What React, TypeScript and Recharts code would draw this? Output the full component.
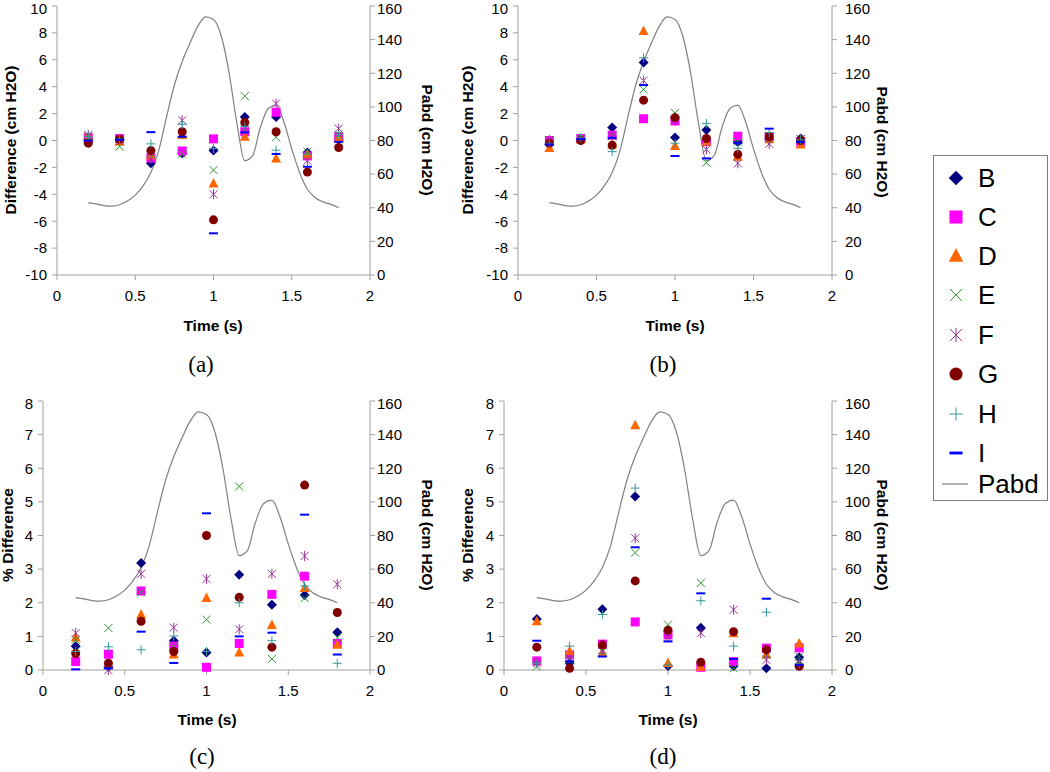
import React from "react"
import { ComposedChart, Scatter, Line, XAxis, YAxis } from "recharts"

// sample times of the nine measurements
const times = [0.2, 0.4, 0.6, 0.8, 1.0, 1.2, 1.4, 1.6, 1.8]
const xTicks = [0, 0.5, 1, 1.5, 2]
const diffTicks = [-10, -8, -6, -4, -2, 0, 2, 4, 6, 8, 10]
const pctTicks = [0, 1, 2, 3, 4, 5, 6, 7, 8]
const pabdTicks = [0, 20, 40, 60, 80, 100, 120, 140, 160]

// abdominal pressure trace
const pabdTimes = [
  0.2, 0.25, 0.3, 0.35, 0.4, 0.45, 0.5, 0.55, 0.6, 0.65, 0.7, 0.75, 0.8, 0.85, 0.9, 0.95, 1.0,
  1.05, 1.1, 1.15, 1.2, 1.25, 1.3, 1.35, 1.4, 1.45, 1.5, 1.55, 1.6, 1.65, 1.7, 1.75, 1.8,
]
const pabdValues = [
  43, 42.3, 41.3, 41, 41.8, 44, 47.5, 53, 61, 74, 94, 113, 127, 138, 148, 153.5, 152,
  142, 120, 90, 68, 71, 88, 99, 101, 91, 75, 61, 51, 46, 43.5, 42, 40,
]

// (a) difference, cm H2O
const aB = [0.05, 0.1, -1.7, -0.95, -0.75, 1.75, 1.75, -0.9, 0.1]
const aC = [0.2, 0.15, -1.3, -0.78, 0.12, 0.65, 2.1, -1.15, 0.28]
const aD = [0.3, -0.1, -1.1, 0.4, -3.2, 0.28, -1.33, -1.05, 0.2]
const aE = [0.35, -0.45, -1.0, -1.0, -2.2, 3.3, 0.24, -0.83, 0.45]
const aF = [0.4, 0.0, -1.4, 1.5, -4.0, 0.9, 2.75, -1.5, 0.88]
const aG = [-0.2, 0.1, -0.75, 0.65, -5.9, 1.35, 0.65, -2.35, -0.52]
const aH = [0.3, 0.1, -0.25, 1.2, -0.6, 1.05, -0.72, -1.0, 0.45]
const aI = [0.0, 0.05, 0.62, 0.28, -6.9, 0.6, -1.0, -1.95, -0.1]

// (b) difference, cm H2O
const bB = [-0.3, 0.1, 0.97, 5.8, 0.22, 0.78, -0.12, 0.1, 0.15]
const bC = [0.0, 0.15, 0.4, 1.62, 1.45, -0.08, 0.32, 0.3, -0.1]
const bD = [-0.55, 0.1, -0.3, 8.15, -0.4, -0.1, -1.2, 0.1, -0.3]
const bE = [0.0, 0.2, 0.3, 3.8, 2.05, -1.65, -0.1, 0.2, 0.1]
const bF = [0.05, 0.1, 0.35, 4.45, 1.5, -0.66, -1.7, -0.25, 0.1]
const bG = [-0.2, 0.0, -0.35, 3.0, 1.7, 0.15, -1.03, 0.28, 0.0]
const bH = [-0.2, 0.2, -0.83, 6.15, -0.2, 1.27, -0.58, 0.6, 0.05]
const bI = [-0.3, 0.1, 0.2, 4.12, -1.15, -1.33, -0.2, 0.88, -0.1]

// (c) % difference
const cB = [0.71, 0.1, 3.18, 0.87, 0.52, 2.83, 1.94, 2.23, 1.12]
const cC = [0.25, 0.47, 2.35, 0.71, 0.08, 0.79, 2.25, 2.79, 0.79]
const cD = [0.97, 0.15, 1.65, 0.46, 2.14, 0.52, 1.34, 2.44, 0.75]
const cE = [0.9, 1.25, 2.31, 0.7, 1.5, 5.46, 0.33, 2.14, 0.97]
const cF = [1.1, 0.0, 2.86, 1.26, 2.71, 1.21, 2.86, 3.39, 2.55]
const cG = [0.49, 0.2, 1.45, 0.55, 4.0, 2.16, 0.68, 5.5, 1.71]
const cH = [0.55, 0.69, 0.6, 1.01, 0.55, 2.0, 0.87, 2.5, 0.2]
const cI = [0.02, 0.05, 1.14, 0.21, 4.66, 1.0, 1.11, 4.62, 0.46]

// (d) % difference
const dB = [1.52, 0.2, 1.81, 5.16, 0.12, 1.26, 0.12, 0.05, 0.38]
const dC = [0.27, 0.45, 0.77, 1.43, 1.05, 0.08, 0.25, 0.65, 0.66]
const dD = [1.45, 0.56, 0.51, 7.28, 0.21, 0.1, 1.09, 0.46, 0.79]
const dE = [0.11, 0.3, 0.55, 3.49, 1.35, 2.59, 0.05, 0.45, 0.4]
const dF = [0.2, 0.35, 0.6, 3.92, 0.97, 1.1, 1.79, 0.3, 0.2]
const dG = [0.68, 0.05, 0.74, 2.65, 1.18, 0.23, 1.14, 0.6, 0.11]
const dH = [0.2, 0.71, 1.65, 5.41, 0.15, 2.06, 0.71, 1.72, 0.2]
const dI = [0.87, 0.26, 0.4, 3.65, 0.85, 2.28, 0.33, 2.12, 0.15]

const seriesNames = ["B", "C", "D", "E", "F", "G", "H", "I"]

const colors: Record<string, string> = {
  B: "#000080",
  C: "#ff00ff",
  D: "#ff6600",
  E: "#2a9a2a",
  F: "#993399",
  G: "#800000",
  H: "#339999",
  I: "#0000ff",
}

const SANS = '"Liberation Sans", Arial, sans-serif'
const SERIF = '"Liberation Serif", "Times New Roman", serif'
const AXIS = "#a0a0a0"

const pabd = pabdTimes.map((t, i) => ({ t, p: pabdValues[i] }))
const toPoints = (vals: number[]) => times.map((t, i) => ({ t, v: vals[i] }))

const Marker = ({ kind, cx, cy, s = 1 }: { kind: string; cx: number; cy: number; s?: number }) => {
  const c = colors[kind]
  if (cx == null || cy == null) return null
  switch (kind) {
    case "B":
      return <polygon points={`${cx},${cy - 5 * s} ${cx + 5 * s},${cy} ${cx},${cy + 5 * s} ${cx - 5 * s},${cy}`} fill={c} />
    case "C":
      return <rect x={cx - 4.5 * s} y={cy - 4.5 * s} width={9 * s} height={9 * s} fill={c} />
    case "D":
      return <polygon points={`${cx},${cy - 5.5 * s} ${cx + 5 * s},${cy + 4 * s} ${cx - 5 * s},${cy + 4 * s}`} fill={c} />
    case "E":
      return (
        <g stroke={c} strokeWidth={1}>
          <line x1={cx - 4 * s} y1={cy - 4 * s} x2={cx + 4 * s} y2={cy + 4 * s} />
          <line x1={cx - 4 * s} y1={cy + 4 * s} x2={cx + 4 * s} y2={cy - 4 * s} />
        </g>
      )
    case "F":
      return (
        <g stroke={c} strokeWidth={1}>
          <line x1={cx - 4 * s} y1={cy - 4 * s} x2={cx + 4 * s} y2={cy + 4 * s} />
          <line x1={cx - 4 * s} y1={cy + 4 * s} x2={cx + 4 * s} y2={cy - 4 * s} />
          <line x1={cx} y1={cy - 5 * s} x2={cx} y2={cy + 5 * s} />
        </g>
      )
    case "G":
      return <circle cx={cx} cy={cy} r={4.5 * s} fill={c} />
    case "H":
      return (
        <g stroke={c} strokeWidth={1}>
          <line x1={cx - 4.5 * s} y1={cy} x2={cx + 4.5 * s} y2={cy} />
          <line x1={cx} y1={cy - 4.5 * s} x2={cx} y2={cy + 4.5 * s} />
        </g>
      )
    default:
      return <rect x={cx - 4.5 * s} y={cy - 1 * s} width={9 * s} height={2 * s} fill={c} />
  }
}

interface PanelProps {
  left: number
  top: number
  leftWidth: number
  rightGap: number
  marginRight: number
  domain: [number, number]
  ticks: number[]
  series: number[][]
}

const Panel = ({ left, top, leftWidth, rightGap, marginRight, domain, ticks, series }: PanelProps) => (
  <div style={{ position: "absolute", left, top }}>
    <ComposedChart
      width={460}
      height={320}
      margin={{ top: 6, right: marginRight, bottom: 15, left: 0 }}
      style={{ fontFamily: SANS }}
    >
      <XAxis
        dataKey="t"
        type="number"
        domain={[0, 2]}
        ticks={xTicks}
        height={30}
        tickSize={5}
        tickMargin={10}
        stroke={AXIS}
        tick={{ fill: "#000", fontSize: 15 }}
      />
      <XAxis xAxisId="top" orientation="top" type="number" domain={[0, 2]} height={0} tick={false} tickLine={false} stroke={AXIS} />
      <YAxis
        yAxisId="left"
        type="number"
        domain={domain}
        ticks={ticks}
        width={leftWidth}
        tickSize={5}
        tickMargin={5}
        stroke={AXIS}
        tick={{ fill: "#000", fontSize: 15 }}
      />
      <YAxis
        yAxisId="right"
        orientation="right"
        type="number"
        domain={[0, 160]}
        ticks={pabdTicks}
        width={50}
        tickSize={5}
        tickMargin={rightGap}
        stroke={AXIS}
        tick={{ fill: "#000", fontSize: 15 }}
      />
      <Line
        yAxisId="right"
        data={pabd}
        dataKey="p"
        type="monotone"
        stroke="#808080"
        strokeWidth={1.2}
        dot={false}
        isAnimationActive={false}
      />
      {seriesNames.map((name, i) => (
        <Scatter
          key={name}
          yAxisId="left"
          name={name}
          data={toPoints(series[i])}
          dataKey="v"
          isAnimationActive={false}
          shape={(p: any) => <Marker kind={name} cx={p.cx} cy={p.cy} />}
        />
      ))}
    </ComposedChart>
  </div>
)

const Rotated = ({ x, y, text, angle }: { x: number; y: number; text: string; angle: number }) => (
  <div
    style={{
      position: "absolute",
      left: x,
      top: y,
      transform: `translate(-50%, -50%) rotate(${angle}deg)`,
      whiteSpace: "nowrap",
      fontFamily: SANS,
      fontWeight: "bold",
      fontSize: 15.5,
    }}
  >
    {text}
  </div>
)

const Caption = ({ x, y, text, serif }: { x: number; y: number; text: string; serif?: boolean }) => (
  <div
    style={{
      position: "absolute",
      left: x,
      top: y,
      transform: "translate(-50%, -50%)",
      whiteSpace: "nowrap",
      fontFamily: serif ? SERIF : SANS,
      fontWeight: serif ? "normal" : "bold",
      fontSize: serif ? 23 : 15.5,
    }}
  >
    {text}
  </div>
)

const legendRows = [178, 217, 256, 295, 335, 374, 414, 453]

const LegendBox = () => (
  <svg style={{ position: "absolute", left: 0, top: 0 }} width={1050} height={772}>
    <rect x={933.5} y={155.5} width={114} height={345} fill="#fff" stroke="#808080" strokeWidth={1} />
    {seriesNames.map((name, i) => (
      <g key={name}>
        <Marker kind={name} cx={956} cy={legendRows[i]} s={1.45} />
        <text x={978} y={legendRows[i]} dy="0.36em" fontFamily={SANS} fontSize={26} fill="#000">
          {name}
        </text>
      </g>
    ))}
    <line x1={942} y1={484} x2={968} y2={484} stroke="#808080" strokeWidth={1.2} />
    <text x={978} y={484} dy="0.36em" fontFamily={SANS} fontSize={26} fill="#000">
      Pabd
    </text>
  </svg>
)

export default function App() {
  return (
    <div style={{ position: "absolute", left: 0, top: 0, width: 1050, height: 772, background: "#fff", overflow: "hidden" }}>
      <Panel left={0} top={0} leftWidth={57} rightGap={2} marginRight={40} domain={[-10, 10]} ticks={diffTicks} series={[aB, aC, aD, aE, aF, aG, aH, aI]} />
      <Panel left={460} top={0} leftWidth={58} rightGap={8} marginRight={38} domain={[-10, 10]} ticks={diffTicks} series={[bB, bC, bD, bE, bF, bG, bH, bI]} />
      <Panel left={0} top={395} leftWidth={43} rightGap={2} marginRight={40} domain={[0, 8]} ticks={pctTicks} series={[cB, cC, cD, cE, cF, cG, cH, cI]} />
      <Panel left={460} top={395} leftWidth={44} rightGap={8} marginRight={38} domain={[0, 8]} ticks={pctTicks} series={[dB, dC, dD, dE, dF, dG, dH, dI]} />

      <Rotated x={11} y={140} text="Difference (cm H2O)" angle={-90} />
      <Rotated x={427} y={140} text="Pabd (cm H2O)" angle={90} />
      <Rotated x={468} y={140} text="Difference (cm H2O)" angle={-90} />
      <Rotated x={882} y={142} text="Pabd (cm H2O)" angle={90} />
      <Rotated x={8} y={535} text="% Difference" angle={-90} />
      <Rotated x={427} y={535} text="Pabd (cm H2O)" angle={90} />
      <Rotated x={468} y={535} text="% Difference" angle={-90} />
      <Rotated x={882} y={535} text="Pabd (cm H2O)" angle={90} />

      <Caption x={213} y={326} text="Time (s)" />
      <Caption x={675} y={326} text="Time (s)" />
      <Caption x={207} y={720} text="Time (s)" />
      <Caption x={668} y={720} text="Time (s)" />

      <Caption x={201} y={365} text="(a)" serif />
      <Caption x={663} y={365} text="(b)" serif />
      <Caption x={202} y={757} text="(c)" serif />
      <Caption x={663} y={757} text="(d)" serif />

      <LegendBox />
    </div>
  )
}
